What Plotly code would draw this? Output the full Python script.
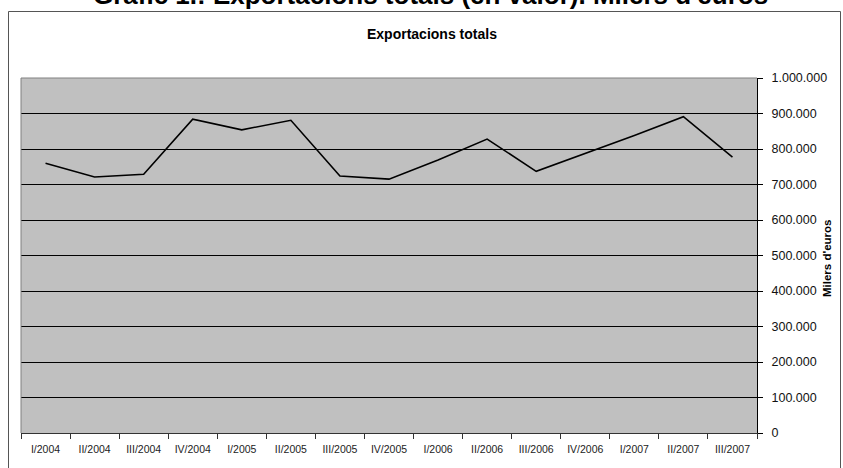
import plotly.graph_objects as go

categories = ["I/2004", "II/2004", "III/2004", "IV/2004", "I/2005", "II/2005",
              "III/2005", "IV/2005", "I/2006", "II/2006", "III/2006", "IV/2006",
              "I/2007", "II/2007", "III/2007"]
exports = [760000, 721000, 729000, 884000, 854000, 881000,
           724000, 715000, 769000, 828000, 737000, 787000,
           838000, 891000, 777000]

main_title = "Gràfic 1.: Exportacions totals (en valor). Milers d'euros"
chart_title = "Exportacions totals"
y_title = "Milers d'euros"

W, H = 843, 468
L, R, T, B = 21, 86, 78, 35
pw, ph = W - L - R, H - T - B

def px_x(x):
    return (x - L) / pw

def px_y(y):
    return (H - B - y) / ph

fig = go.Figure()
fig.add_trace(go.Scatter(x=categories, y=exports, mode="lines",
                         line=dict(color="black", width=1.6),
                         hoverinfo="x+y", showlegend=False))

font = "Liberation Sans, Arial, sans-serif"

fig.update_layout(
    width=W, height=H,
    margin=dict(l=L, r=R, t=T, b=B, pad=0),
    paper_bgcolor="white",
    plot_bgcolor="#C0C0C0",
    separators=",.",
    font=dict(family=font, size=11, color="black"),
    xaxis=dict(type="category", tickson="boundaries", ticks="outside",
               ticklen=5, tickcolor="#333333", showline=True,
               linecolor="#333333", linewidth=1, showgrid=False,
               tickfont=dict(size=10.5, color="#222222"),
               ticklabelstandoff=6, range=[-0.5, len(categories) - 0.5]),
    yaxis=dict(side="right", range=[0, 1000000], dtick=100000,
               tickformat=",d", ticks="outside", ticklen=5, tickcolor="black",
               showline=True, linecolor="black", linewidth=1,
               showgrid=True, gridcolor="black", gridwidth=1,
               zeroline=False, tickfont=dict(size=12.5, color="#111111"),
               ticklabelstandoff=6),
    shapes=[
        # outer chart frame
        dict(type="rect", xref="paper", yref="paper",
             x0=px_x(8.5), x1=px_x(840.5), y0=px_y(475), y1=px_y(11.5),
             line=dict(color="#555555", width=1), layer="below"),
        # plot area border (top / left)
        dict(type="line", xref="paper", yref="paper", x0=0, x1=1, y0=1, y1=1,
             line=dict(color="#808080", width=1), layer="above"),
        dict(type="line", xref="paper", yref="paper", x0=0, x1=0, y0=0, y1=1,
             line=dict(color="#808080", width=1), layer="above"),
    ],
    annotations=[
        dict(text="<b>" + main_title + "</b>", xref="paper", yref="paper",
             x=px_x(430), y=px_y(12), xanchor="center", yanchor="bottom",
             showarrow=False, font=dict(size=26, family=font, color="black")),
        dict(text="<b>" + chart_title + "</b>", xref="paper", yref="paper",
             x=px_x(432), y=px_y(34), xanchor="center", yanchor="middle",
             showarrow=False, font=dict(size=14, family=font, color="black")),
        dict(text="<b>" + y_title + "</b>", xref="paper", yref="paper",
             x=px_x(827), y=px_y(258), xanchor="center", yanchor="middle",
             textangle=-90, showarrow=False,
             font=dict(size=11.5, family=font, color="black")),
    ],
)

fig.write_html("out.html",
               config={"displayModeBar": False},
               post_script="document.body.style.margin='0px';"
                           "document.body.style.overflow='hidden';")
